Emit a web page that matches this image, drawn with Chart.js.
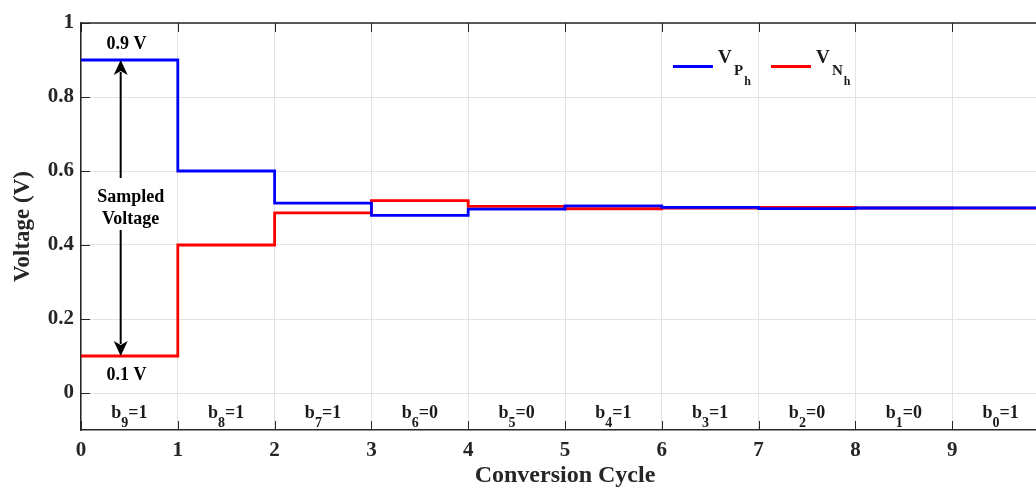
<!DOCTYPE html>
<html>
<head>
<meta charset="utf-8">
<script src="https://cdn.jsdelivr.net/npm/chart.js@4.4.1/dist/chart.umd.min.js"></script>
<style>
  html, body { margin: 0; padding: 0; background: #fff; overflow: hidden; }
  #wrap { width: 1057px; height: 488px; }
</style>
</head>
<body>
<div id="wrap"><canvas id="sarChart" width="1057" height="488"></canvas></div>
<script>
// Conversion cycles and the held comparator input levels in each cycle
const cycles = [0, 1, 2, 3, 4, 5, 6, 7, 8, 9];
const vpLevels = [0.9, 0.6, 0.513, 0.48, 0.497, 0.506, 0.5015, 0.4985, 0.5, 0.5005];
const vnLevels = [0.1, 0.4, 0.487, 0.52, 0.5045, 0.498, 0.4995, 0.5015, 0.5, 0.4998];

// Decided bit in each cycle (MSB first)
const bitIndex = ["9", "8", "7", "6", "5", "4", "3", "2", "1", "0"];
const bitValues = [1, 1, 1, 0, 0, 1, 1, 0, 0, 1];

const xTicks = [0, 1, 2, 3, 4, 5, 6, 7, 8, 9, 10];
const yTicks = [0, 0.2, 0.4, 0.6, 0.8, 1];

const FONT = '"Liberation Serif", "Times New Roman", serif';
const AXIS_COLOR = "#262626";

// stepped line: each level holds until the next cycle, last one runs to the end
const toSteps = (levels) => {
  const pts = cycles.map((c, i) => ({ x: c, y: levels[i] }));
  pts.push({ x: cycles[cycles.length - 1] + 1, y: levels[levels.length - 1] });
  return pts;
};

// draw text made of pieces with subscripts, centred on x
const drawPieces = (ctx, pieces, cx, baseY) => {
  let total = 0;
  pieces.forEach((p) => {
    ctx.font = `bold ${p.size}px ${FONT}`;
    p.w = ctx.measureText(p.text).width;
    total += p.w;
  });
  let x = cx - total / 2;
  ctx.textAlign = "left";
  ctx.textBaseline = "alphabetic";
  pieces.forEach((p) => {
    ctx.font = `bold ${p.size}px ${FONT}`;
    ctx.fillText(p.text, x, baseY + (p.dy || 0));
    x += p.w;
  });
};

const arrowHead = (ctx, x, tipY, dir) => {
  // dir = -1 points up, 1 points down
  ctx.beginPath();
  ctx.moveTo(x, tipY);
  ctx.lineTo(x - 7, tipY - dir * 15);
  ctx.lineTo(x, tipY - dir * 11);
  ctx.lineTo(x + 7, tipY - dir * 15);
  ctx.closePath();
  ctx.fill();
};

// top border and inward tick marks
const framePlugin = {
  id: "frame",
  beforeDatasetsDraw(chart) {
    const { ctx, chartArea: a, scales } = chart;
    ctx.save();
    ctx.strokeStyle = AXIS_COLOR;
    ctx.lineWidth = 1.5;
    ctx.beginPath();
    ctx.moveTo(a.left, a.top);
    ctx.lineTo(a.right, a.top);
    ctx.stroke();
    ctx.lineWidth = 1;
    ctx.beginPath();
    xTicks.forEach((v) => {
      const px = Math.round(scales.x.getPixelForValue(v)) + 0.5;
      ctx.moveTo(px, a.bottom);
      ctx.lineTo(px, a.bottom - 9);
      ctx.moveTo(px, a.top);
      ctx.lineTo(px, a.top + 9);
    });
    yTicks.forEach((v) => {
      const py = Math.round(scales.y.getPixelForValue(v)) + 0.5;
      ctx.moveTo(a.left, py);
      ctx.lineTo(a.left + 9, py);
    });
    ctx.stroke();
    ctx.restore();
  }
};

// annotations: sampled-voltage arrow, bit labels and legend
const notesPlugin = {
  id: "notes",
  afterDatasetsDraw(chart) {
    const { ctx, chartArea: a, scales } = chart;
    const xs = scales.x, ys = scales.y;
    ctx.save();
    ctx.fillStyle = "#000";
    ctx.strokeStyle = "#000";

    // double arrow between the two sampled levels
    const ax = xs.getPixelForValue(0.41);
    const yTop = ys.getPixelForValue(vpLevels[0]);
    const yBot = ys.getPixelForValue(vnLevels[0]);
    ctx.lineWidth = 2;
    ctx.beginPath();
    ctx.moveTo(ax, yTop + 12);
    ctx.lineTo(ax, yBot - 12);
    ctx.stroke();
    arrowHead(ctx, ax, yTop, -1);
    arrowHead(ctx, ax, yBot, 1);

    const midY = ys.getPixelForValue((vpLevels[0] + vnLevels[0]) / 2);
    const tx = xs.getPixelForValue(0.513);
    ctx.fillStyle = "#fff";
    ctx.fillRect(tx - 39, midY - 30, 78, 52);
    ctx.fillStyle = "#000";
    ctx.font = `bold 18px ${FONT}`;
    ctx.textAlign = "center";
    ctx.textBaseline = "alphabetic";
    ctx.fillText("Sampled", tx, midY - 6.5);
    ctx.fillText("Voltage", tx, midY + 16);

    const lx = xs.getPixelForValue(0.47);
    ctx.fillText(`${vpLevels[0]} V`, lx, yTop - 11.5);
    ctx.fillText(`${vnLevels[0]} V`, lx, yBot + 23.5);

    // bit decided in each cycle
    ctx.fillStyle = "#1a1a1a";
    cycles.forEach((c, i) => {
      drawPieces(ctx, [
        { text: "b", size: 18 },
        { text: bitIndex[i], size: 14, dy: 9 },
        { text: "=" + bitValues[i], size: 18 }
      ], xs.getPixelForValue(c + 0.5), a.bottom - 12);
    });

    // legend
    const legend = [
      { color: "#0000ff", sub: "P", x0: a.left + 592 },
      { color: "#ff0000", sub: "N", x0: a.left + 690 }
    ];
    legend.forEach((it) => {
      ctx.strokeStyle = it.color;
      ctx.lineWidth = 3;
      ctx.beginPath();
      ctx.moveTo(it.x0, a.top + 43.5);
      ctx.lineTo(it.x0 + 40, a.top + 43.5);
      ctx.stroke();
      ctx.fillStyle = "#1a1a1a";
      ctx.textAlign = "left";
      ctx.font = `bold 19px ${FONT}`;
      ctx.fillText("V", it.x0 + 45, a.top + 40);
      ctx.font = `bold 15px ${FONT}`;
      ctx.fillText(it.sub, it.x0 + 61, a.top + 52);
      const sw = ctx.measureText(it.sub).width;
      ctx.font = `bold 12px ${FONT}`;
      ctx.fillText("h", it.x0 + 62 + sw, a.top + 62);
    });
    ctx.restore();
  }
};

new Chart(document.getElementById("sarChart"), {
  type: "line",
  data: {
    datasets: [
      {
        label: "VPh",
        data: toSteps(vpLevels),
        borderColor: "#0000ff",
        borderWidth: 2.8,
        stepped: true,
        pointRadius: 0,
        fill: false
      },
      {
        label: "VNh",
        data: toSteps(vnLevels),
        borderColor: "#ff0000",
        borderWidth: 2.8,
        stepped: true,
        pointRadius: 0,
        fill: false
      }
    ]
  },
  options: {
    responsive: false,
    animation: false,
    devicePixelRatio: 1,
    layout: { padding: { top: 23, right: 1, bottom: 0, left: 0 } },
    plugins: {
      legend: { display: false },
      tooltip: { enabled: false }
    },
    scales: {
      x: {
        type: "linear",
        min: 0,
        max: 10,
        afterBuildTicks: (s) => { s.ticks = xTicks.map((v) => ({ value: v })); },
        afterFit: (s) => { s.height = 58; },
        grid: { color: "#e3e3e3", lineWidth: 1, drawTicks: false },
        border: { display: true, color: AXIS_COLOR, width: 1.5 },
        ticks: {
          padding: 8,
          color: AXIS_COLOR,
          font: { family: FONT, size: 21, weight: "bold" },
          callback: (v) => (v === 10 ? "" : String(v))
        },
        title: {
          display: true,
          text: "Conversion Cycle",
          color: AXIS_COLOR,
          font: { family: FONT, size: 24, weight: "bold", lineHeight: 1 },
          padding: { top: 0, bottom: 0 }
        }
      },
      y: {
        type: "linear",
        min: -0.1,
        max: 1,
        afterBuildTicks: (s) => { s.ticks = yTicks.map((v) => ({ value: v })); },
        afterFit: (s) => { s.width = 81; },
        grid: { color: "#e3e3e3", lineWidth: 1, drawTicks: false },
        border: { display: true, color: AXIS_COLOR, width: 1.5 },
        ticks: {
          padding: 7,
          color: AXIS_COLOR,
          font: { family: FONT, size: 21, weight: "bold" },
          callback: (v) => String(Math.round(v * 10) / 10)
        },
        title: {
          display: true,
          text: "Voltage (V)",
          color: AXIS_COLOR,
          font: { family: FONT, size: 23, weight: "bold", lineHeight: 1.2 },
          padding: { top: 9, bottom: 0 }
        }
      }
    }
  },
  plugins: [framePlugin, notesPlugin]
});
</script>
</body>
</html>
